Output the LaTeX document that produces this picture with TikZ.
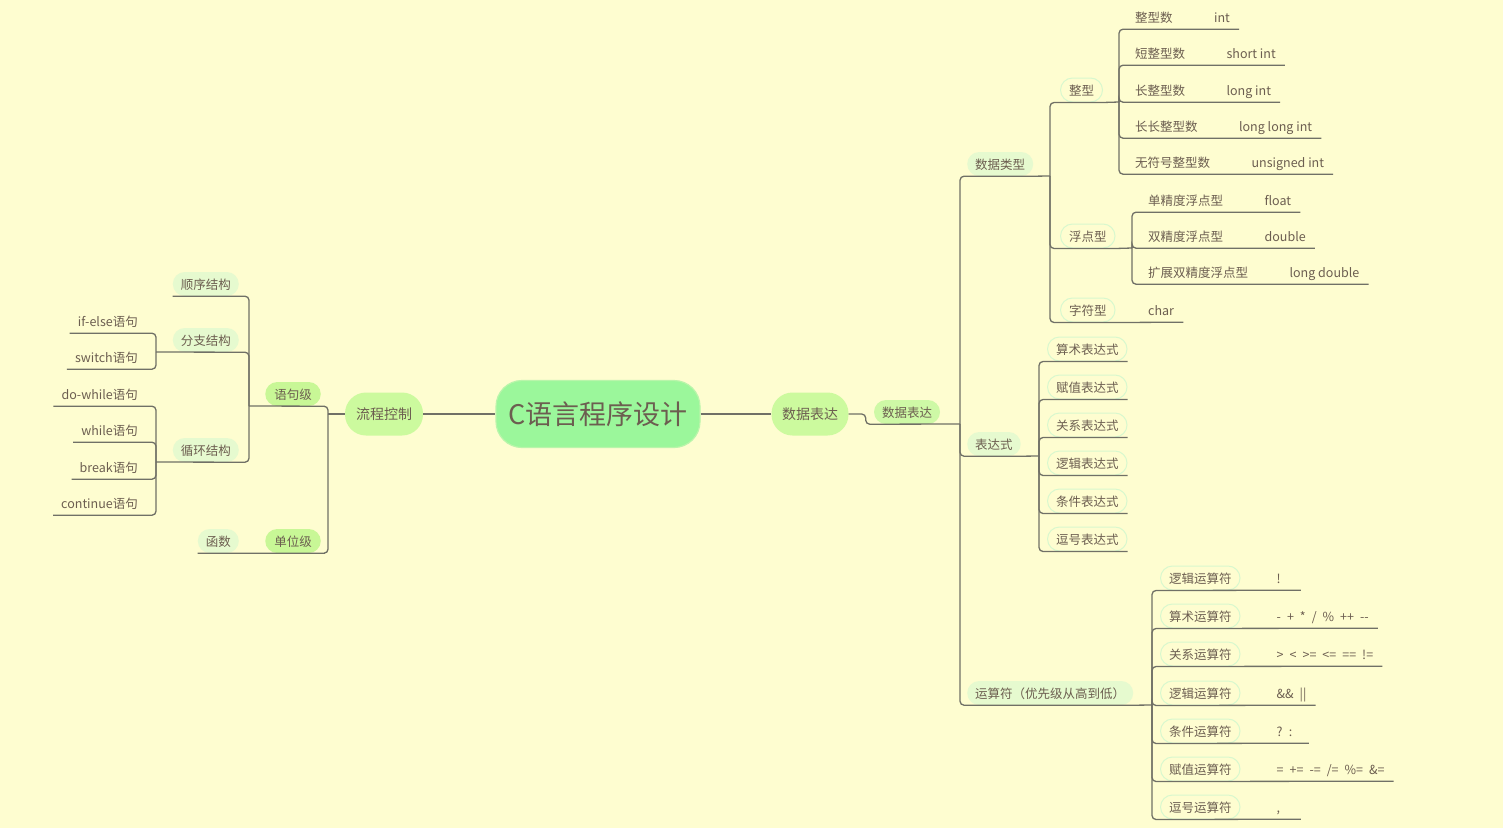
\documentclass[tikz,border=0pt]{standalone}
\usepackage{fontspec}
\newfontfamily\cjk{Noto Sans CJK SC}
\definecolor{bgc}{RGB}{254,253,208}
\definecolor{txtc}{RGB}{108,94,80}
\definecolor{linec}{RGB}{112,112,102}
\definecolor{rootc}{RGB}{155,247,155}
\definecolor{rootb}{RGB}{185,245,170}
\definecolor{mainc}{RGB}{204,250,158}
\definecolor{subc}{RGB}{200,247,150}
\definecolor{subtwoc}{RGB}{206,249,166}
\definecolor{palec}{RGB}{230,250,207}
\definecolor{ringc}{RGB}{216,248,206}
\tikzset{
 ntxt/.style={font=\cjk\fontsize{12.5}{14}\selectfont, text=txtc, inner sep=0pt, text height=11.5pt, text depth=0.5pt},
 nroot/.style={font=\cjk\fontsize{27}{30}\selectfont, text=txtc, fill=rootc, draw=rootb, line width=1.2pt, rounded corners=26pt, minimum width=204pt, minimum height=67pt, inner sep=0pt},
 nmain/.style={font=\cjk\fontsize{14}{16}\selectfont, text=txtc, fill=mainc, rounded corners=21pt, minimum height=43pt, minimum width=78pt, inner sep=0pt},
 nsub/.style={ntxt, fill=subc, rounded corners=12pt, minimum height=24pt, inner xsep=9pt},
 npale/.style={ntxt, fill=palec, rounded corners=12pt, minimum height=24pt, inner xsep=8pt},
 nring/.style={ntxt, draw=ringc, line width=1pt, rounded corners=12pt, minimum height=24pt, inner xsep=8.5pt},
 nleaf/.style={ntxt, minimum height=24pt},
 nop/.style={nleaf, execute at begin node={\spaceskip=6pt plus 1pt}},
 lk/.style={draw=linec, line width=1.3pt, rounded corners=4pt},
 lkroot/.style={draw=linec, line width=2.5pt},
}
\begin{document}
\begin{tikzpicture}[x=1pt,y=-1pt]
\fill[bgc] (0,0) rectangle (1503,828);
\useasboundingbox (0,0) rectangle (1503,828);

% ---------- centre and first level
\node[nroot] (root) at (598,414) {C语言程序设计};
\node[nmain] (lc) at (384,414) {流程控制};
\node[nmain, minimum width=77pt] (sj1) at (810,414) {数据表达};
\node[nsub, fill=subtwoc, inner xsep=8pt] (sj2) at (907,412) {数据表达};

% ---------- left side
\node[nsub] (yjj) at (293,394) {语句级};
\node[nsub] (dwj) at (293,541) {单位级};
\node[npale, anchor=east] (sx) at (239,284) {顺序结构};
\node[npale, anchor=east] (fz) at (239,340) {分支结构};
\node[npale, anchor=east] (xh) at (239,450) {循环结构};
\node[npale, anchor=east] (hs) at (239,541) {函数};
\node[nleaf, anchor=east] (ifn) at (138,321) {if-else语句};
\node[nleaf, anchor=east] (sw) at (138,357) {switch语句};
\node[nleaf, anchor=east] (dw) at (138,394) {do-while语句};
\node[nleaf, anchor=east] (wh) at (138,430) {while语句};
\node[nleaf, anchor=east] (br) at (138,467) {break语句};
\node[nleaf, anchor=east] (ct) at (138,503) {continue语句};

% ---------- right side, level 3
\node[npale, anchor=west] (sjlx) at (967,164) {数据类型};
\node[npale, anchor=west] (bds) at (967,444) {表达式};
\node[npale, anchor=west] (ysf) at (967,693) {运算符（优先级从高到低）};

% data types
\node[nring, anchor=west] (zx) at (1060,90) {整型};
\node[nring, anchor=west] (fd) at (1060,236) {浮点型};
\node[nring, anchor=west] (zf) at (1060,310) {字符型};
\node[nleaf, anchor=west] (vc) at (1148,310) {char};

\node[nleaf, anchor=west] (i1) at (1135,17) {整型数};
\node[nleaf, anchor=west] (v1) at ([xshift=41pt]i1.east) {int};
\node[nleaf, anchor=west] (i2) at (1135,53) {短整型数};
\node[nleaf, anchor=west] (v2) at ([xshift=41pt]i2.east) {short int};
\node[nleaf, anchor=west] (i3) at (1135,90) {长整型数};
\node[nleaf, anchor=west] (v3) at ([xshift=41pt]i3.east) {long int};
\node[nleaf, anchor=west] (i4) at (1135,126) {长长整型数};
\node[nleaf, anchor=west] (v4) at ([xshift=41pt]i4.east) {long long int};
\node[nleaf, anchor=west] (i5) at (1135,162) {无符号整型数};
\node[nleaf, anchor=west] (v5) at ([xshift=41pt]i5.east) {unsigned int};

\node[nleaf, anchor=west] (f1) at (1148,200) {单精度浮点型};
\node[nleaf, anchor=west] (w1) at ([xshift=41pt]f1.east) {float};
\node[nleaf, anchor=west] (f2) at (1148,236) {双精度浮点型};
\node[nleaf, anchor=west] (w2) at ([xshift=41pt]f2.east) {double};
\node[nleaf, anchor=west] (f3) at (1148,272) {扩展双精度浮点型};
\node[nleaf, anchor=west] (w3) at ([xshift=41pt]f3.east) {long double};

% expressions
\node[nring, anchor=west] (e1) at (1047,349) {算术表达式};
\node[nring, anchor=west] (e2) at (1047,387) {赋值表达式};
\node[nring, anchor=west] (e3) at (1047,425) {关系表达式};
\node[nring, anchor=west] (e4) at (1047,463) {逻辑表达式};
\node[nring, anchor=west] (e5) at (1047,501) {条件表达式};
\node[nring, anchor=west] (e6) at (1047,539) {逗号表达式};

% operators
\node[nring, anchor=west] (o1) at (1160,578) {逻辑运算符};
\node[nop, anchor=west, text width=15pt] (p1) at ([xshift=36pt]o1.east) {!};
\node[nring, anchor=west] (o2) at (1160,616) {算术运算符};
\node[nop, anchor=west] (p2) at ([xshift=36pt]o2.east) {- + * / \% ++ -\kern0pt-};
\node[nring, anchor=west] (o3) at (1160,654) {关系运算符};
\node[nop, anchor=west] (p3) at ([xshift=36pt]o3.east) {> < >= <= == !=};
\node[nring, anchor=west] (o4) at (1160,693) {逻辑运算符};
\node[nop, anchor=west] (p4) at ([xshift=36pt]o4.east) {\&\& ||};
\node[nring, anchor=west] (o5) at (1160,731) {条件运算符};
\node[nop, anchor=west, text width=23pt] (p5) at ([xshift=36pt]o5.east) {?\enspace:};
\node[nring, anchor=west] (o6) at (1160,769) {赋值运算符};
\node[nop, anchor=west] (p6) at ([xshift=36pt]o6.east) {= += -= /= \%= \&=};
\node[nring, anchor=west] (o7) at (1160,807) {逗号运算符};
\node[nop, anchor=west, text width=15pt] (p7) at ([xshift=36pt]o7.east) {,};

% ---------- trunk coordinates
\coordinate (tl1) at (328,414);
\coordinate (tl2) at (249,406);
\coordinate (tl3) at (156,352);
\coordinate (tl4) at (156,462);
\coordinate (tr1) at (960,424);
\coordinate (tr2) at (1050,176);
\coordinate (tr3) at (1119,102);
\coordinate (tr4) at (1132,248);
\coordinate (tr5) at (1039,456);
\coordinate (tr6) at (1152,705);

% ---------- connectors
\draw[lkroot] (lc.east) -- (root.west);
\draw[lkroot] (root.east) -- (sj1.west);

% left
\draw[lk] (lc.west) -- (tl1);
\draw[lk] (tl1) |- (yjj.south east) -- (tl2);
\draw[lk] (tl1) |- (dwj.south east) -- (hs.south west);
\draw[lk] (tl2) |- (sx.south east) -- (sx.south west);
\draw[lk] (tl2) |- (fz.south east) -- (tl3);
\draw[lk] (tl2) |- (xh.south east) -- (tl4);
\draw[lk] (tl3) |- (ifn.south east) -- ([xshift=-8pt]ifn.south west);
\draw[lk] (tl3) |- (sw.south east) -- ([xshift=-8pt]sw.south west);
\draw[lk] (tl4) |- (dw.south east) -- ([xshift=-8pt]dw.south west);
\draw[lk] (tl4) |- (wh.south east) -- ([xshift=-8pt]wh.south west);
\draw[lk] (tl4) |- (br.south east) -- ([xshift=-8pt]br.south west);
\draw[lk] (tl4) |- (ct.south east) -- ([xshift=-8pt]ct.south west);

% right
\draw[lk] (sj1.east) -- ++(17,0) |- (sj2.south west) -- (tr1);
\draw[lk] (tr1) |- (sjlx.south east) -- (tr2);
\draw[lk] (tr1) |- (bds.south east) -- (tr5);
\draw[lk] (tr1) |- (ysf.south east) -- (tr6);
\draw[lk] (tr2) |- (zx.south east) -- (tr3);
\draw[lk] (tr2) |- (fd.south east) -- (tr4);
\draw[lk] (tr2) |- (zf.south east) -- ([xshift=9pt]vc.south east);
\foreach \a/\b in {i1/v1,i2/v2,i3/v3,i4/v4,i5/v5}
  \draw[lk] (tr3) |- (\a.south west) -- ([xshift=9pt]\b.south east);
\foreach \a/\b in {f1/w1,f2/w2,f3/w3}
  \draw[lk] (tr4) |- (\a.south west) -- ([xshift=9pt]\b.south east);
\foreach \a in {e1,e2,e3,e4,e5,e6}
  \draw[lk] (tr5) |- (\a.south east);
\foreach \a/\b in {o1/p1,o2/p2,o3/p3,o4/p4,o5/p5,o6/p6,o7/p7}
  \draw[lk] (tr6) |- (\a.south west) -- ([xshift=9pt]\b.south east);
\end{tikzpicture}
\end{document}
